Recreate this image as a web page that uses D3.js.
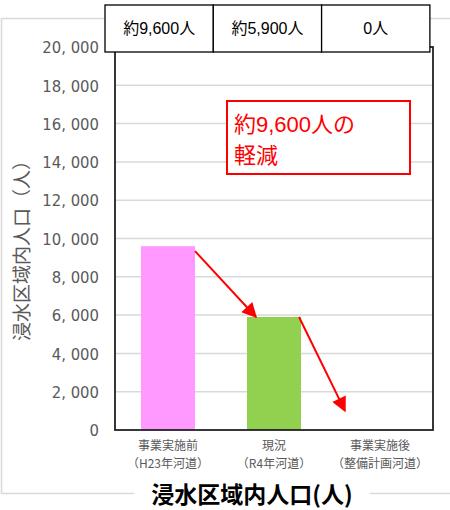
<!DOCTYPE html>
<html><head><meta charset="utf-8">
<script src="https://cdn.jsdelivr.net/npm/d3@7"></script>
<style>body{margin:0;background:#fff;}svg{display:block;}</style>
</head><body>
<script>
const categories = ["事業実施前", "現況", "事業実施後"];
const subLabels = ["（H23年河道）", "（R4年河道）", "（整備計画河道）"];
const values = [9600, 5900, 0];
const tableLabels = ["約9,600人", "約5,900人", "0人"];
const barColors = ["#FF99FF", "#92D050", "#5B9BD5"];
const yTicks = [0, 2000, 4000, 6000, 8000, 10000, 12000, 14000, 16000, 18000, 20000];
const yTickLabels = ["0", "2, 000", "4, 000", "6, 000", "8, 000", "10, 000", "12, 000", "14, 000", "16, 000", "18, 000", "20, 000"];
const annotationLines = ["約9,600人の", "軽減"];
const yTitle = "浸水区域内人口（人）";
const chartTitle = "浸水区域内人口(人)";

const W = 450, H = 510;
const svg = d3.select("body").append("svg").attr("width", W).attr("height", H);
const font = "'Noto Sans CJK JP', 'Noto Sans', sans-serif";
const latinFont = "'Liberation Sans', 'Noto Sans CJK JP', sans-serif";

// outer chart frame
svg.append("rect").attr("x", 1.5).attr("y", 18.5).attr("width", 470).attr("height", 475)
  .attr("fill", "#fff").attr("stroke", "#d9d9d9").attr("stroke-width", 1.5);

const L = 115, R = 433, T = 47, B = 430;
const x = d3.scaleBand().domain(categories).range([L, R]).paddingInner(0.49).paddingOuter(0.245);
const y = d3.scaleLinear().domain([0, 20000]).range([B, T]);

// gridlines
svg.append("g").selectAll("line").data(yTicks.filter(d => d > 0)).join("line")
  .attr("x1", L).attr("x2", R).attr("y1", d => y(d)).attr("y2", d => y(d))
  .attr("stroke", "#d9d9d9").attr("stroke-width", 1.5);

// y tick labels
const yAxis = d3.axisLeft(y).tickValues(yTicks).tickSize(0).tickPadding(16)
  .tickFormat((d, i) => yTickLabels[i]);
const ga = svg.append("g").attr("transform", `translate(${L},0)`).call(yAxis);
ga.select(".domain").remove();
ga.selectAll("text").attr("fill", "#595959").attr("font-size", 16.5)
  .attr("font-family", "'DejaVu Sans Condensed', 'Liberation Sans Narrow', 'Liberation Sans', sans-serif")
  .attr("dy", "0.35em");

// bars
svg.append("g").selectAll("rect").data(values).join("rect")
  .attr("x", (d, i) => x(categories[i])).attr("width", x.bandwidth())
  .attr("y", d => y(d)).attr("height", d => y(0) - y(d))
  .attr("fill", (d, i) => barColors[i]);

// plot border
svg.append("rect").attr("x", L).attr("y", T).attr("width", R - L).attr("height", B - T)
  .attr("fill", "none").attr("stroke", "#222").attr("stroke-width", 1.8);

// x category labels
const xl = svg.append("g");
categories.forEach((c, i) => {
  const cx = x(c) + x.bandwidth() / 2;
  xl.append("text").attr("x", cx).attr("y", 450).attr("text-anchor", "middle")
    .attr("fill", "#595959").attr("font-size", 12).attr("font-family", font).text(c);
  xl.append("text").attr("x", cx).attr("y", 468).attr("text-anchor", "middle")
    .attr("fill", "#595959").attr("font-size", 12).attr("font-family", font).text(subLabels[i]);
});

// arrows
const defs = svg.append("defs");
defs.append("marker").attr("id", "ah").attr("viewBox", "0 0 10 10").attr("refX", 9).attr("refY", 5)
  .attr("markerWidth", 17).attr("markerHeight", 15).attr("markerUnits", "userSpaceOnUse")
  .attr("orient", "auto").append("path").attr("d", "M0,0 L10,5 L0,10 Z").attr("fill", "#FF0000");

const arrows = [
  [x(categories[0]) + x.bandwidth(), y(values[0]) + 5, x(categories[1]) + 9, y(values[1])],
  [x(categories[1]) + x.bandwidth() - 2, y(values[1]), x(categories[2]) - 8, y(1000)]
];
svg.append("g").selectAll("line").data(arrows).join("line")
  .attr("x1", d => d[0]).attr("y1", d => d[1]).attr("x2", d => d[2]).attr("y2", d => d[3])
  .attr("stroke", "#FF0000").attr("stroke-width", 2).attr("marker-end", "url(#ah)");

// annotation box
svg.append("rect").attr("x", 227).attr("y", 101).attr("width", 183).attr("height", 73)
  .attr("fill", "#fff").attr("stroke", "#FF0000").attr("stroke-width", 2);
annotationLines.forEach((t, i) => {
  svg.append("text").attr("x", 234).attr("y", 132 + i * 31).attr("fill", "#FF0000")
    .attr("font-size", 22).attr("font-family", latinFont).text(t);
});

// top table
const tx0 = 105, tw = 108.3, ty = 5, th = 47;
tableLabels.forEach((t, i) => {
  svg.append("rect").attr("x", tx0 + i * tw).attr("y", ty).attr("width", tw).attr("height", th)
    .attr("fill", "#fff").attr("stroke", "#000").attr("stroke-width", 1.3);
  svg.append("text").attr("x", tx0 + i * tw + tw / 2).attr("y", ty + th / 2).attr("dy", "0.35em")
    .attr("text-anchor", "middle").attr("font-size", 16).attr("fill", "#000")
    .attr("font-family", latinFont).text(t);
});

// y title
svg.append("text").attr("transform", "translate(29,246) rotate(-90)").attr("text-anchor", "middle")
  .attr("fill", "#595959").attr("font-size", 19).attr("font-family", font).text(yTitle);

// bottom title with white backing
svg.append("rect").attr("x", 134).attr("y", 483).attr("width", 236).attr("height", 27).attr("fill", "#fff");
svg.append("text").attr("x", 252).attr("y", 503).attr("text-anchor", "middle")
  .attr("font-size", 23).attr("font-weight", "bold").attr("fill", "#000")
  .attr("font-family", font).text(chartTitle);
</script>
</body></html>
